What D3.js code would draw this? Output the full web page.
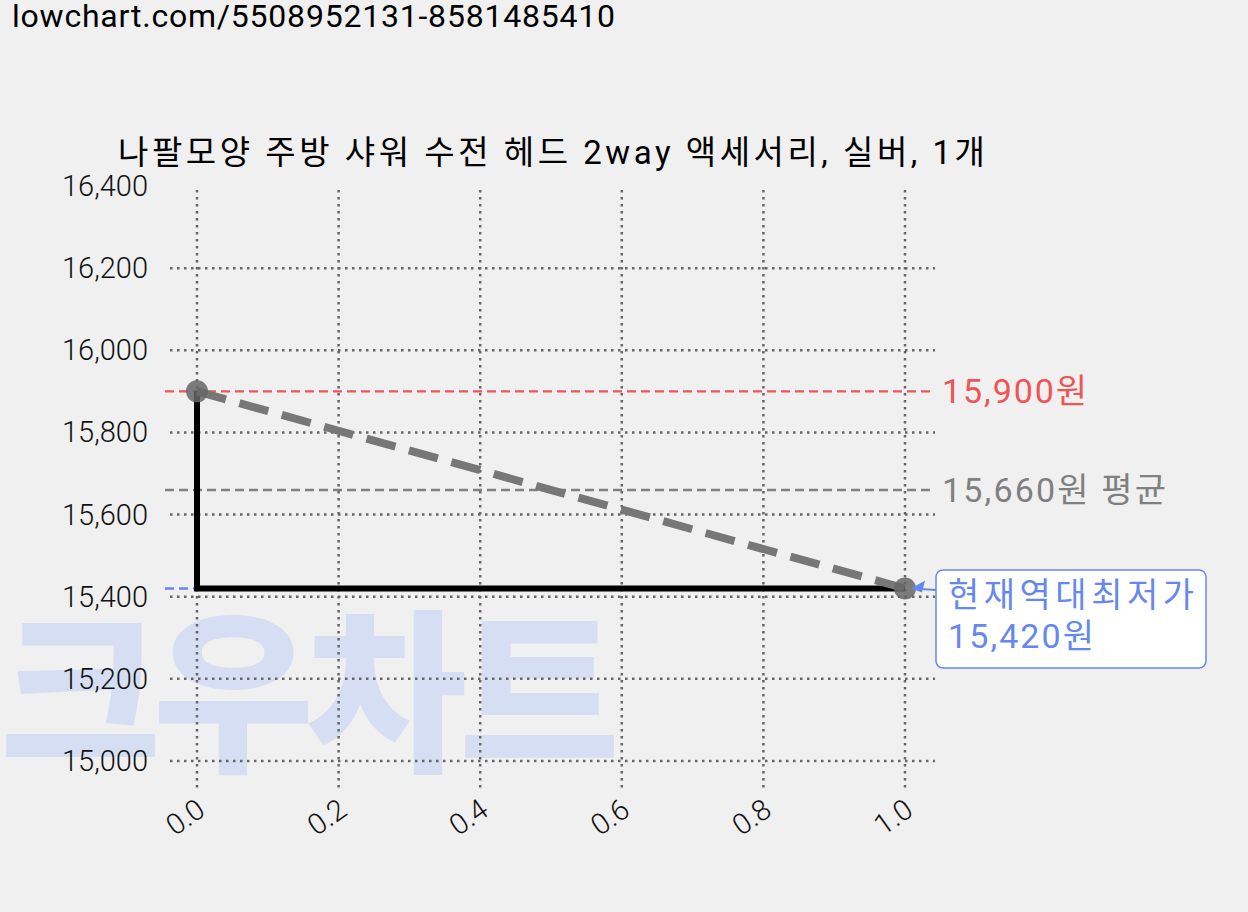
<!DOCTYPE html>
<html><head><meta charset="utf-8">
<script src="https://cdn.jsdelivr.net/npm/d3@7"></script>
<style>body{margin:0;background:#f0f0f0;font-family:Roboto,"Noto Sans CJK KR",sans-serif}</style>
</head><body><svg id="c" width="1248" height="912"></svg>
<script>
const title = "나팔모양 주방 샤워 수전 헤드 2way 액세서리, 실버, 1개";
const urlText = "lowchart.com/5508952131-8581485410";
const xs = [0.0, 1.0];
const prices = [15900, 15420];
const stepX = [0.0, 0.0, 1.0];
const stepY = [15900, 15420, 15420];
const xTicks = [0.0, 0.2, 0.4, 0.6, 0.8, 1.0];
const yTicks = [15000, 15200, 15400, 15600, 15800, 16000, 16200, 16400];
const maxPrice = 15900, avgPrice = 15660, minPrice = 15420;

const svg = d3.select("#c");
const F = 'Roboto,"Noto Sans CJK KR",sans-serif';
svg.append("rect").attr("width",1248).attr("height",912).attr("fill","#f0f0f0");
svg.append("text").attr("x",12).attr("y",27).attr("font-size",32).attr("font-family",F).attr("textLength",603).text(urlText);

const x = d3.scaleLinear().domain([0,1]).range([197,905]);
const y = d3.scaleLinear().domain([15000,16400]).range([761,186]);

// watermark
svg.append("text").attr("x",0).attr("y",758).attr("font-size",175).attr("font-weight",900)
  .attr("font-family",'"Noto Sans CJK KR"').attr("fill","#d5def2").attr("textLength",620).text("크우차트");

const g = svg.append("g");
g.selectAll(".hg").data(yTicks.filter(d=>d<16400)).join("line")
  .attr("x1",170).attr("x2",935).attr("y1",d=>y(d)).attr("y2",d=>y(d))
  .attr("stroke","#666").attr("stroke-width",2.5).attr("stroke-dasharray","2.5,4.5");
g.selectAll(".vg").data(xTicks).join("line")
  .attr("x1",d=>x(d)).attr("x2",d=>x(d)).attr("y1",190).attr("y2",790)
  .attr("stroke","#666").attr("stroke-width",2.5).attr("stroke-dasharray","2.5,4.5");

g.selectAll(".yl").data(yTicks).join("text").attr("x",148).attr("y",d=>y(d)+10)
  .attr("text-anchor","end").attr("font-size",29).attr("font-weight",300).attr("font-family",F).attr("fill","#111")
  .text(d=>d3.format(",")(d));
g.selectAll(".xl").data(xTicks).join("text")
  .attr("transform",d=>`translate(${x(d)+10},${814}) rotate(-35)`)
  .attr("text-anchor","end").attr("font-size",29).attr("font-weight",300).attr("font-family",F).attr("fill","#111")
  .text(d=>d.toFixed(1));

svg.append("text").attr("x",118).attr("y",164).attr("font-size",33).attr("font-family",F).attr("textLength",867).text(title);

function hline(v,c,x1,x2){svg.append("line").attr("x1",x1).attr("x2",x2).attr("y1",y(v)).attr("y2",y(v))
  .attr("stroke",c).attr("stroke-width",2.4).attr("stroke-dasharray","9,5");}
hline(maxPrice,"#ee5555",165,935);
hline(avgPrice,"#808080",165,935);
hline(minPrice,"#6688ee",165,200);
svg.append("text").attr("x",942).attr("y",y(maxPrice)+12).attr("font-size",34).attr("font-family",F).attr("fill","#ee5555").attr("textLength",145).text(d3.format(",")(maxPrice)+"원");
svg.append("text").attr("x",942).attr("y",y(avgPrice)+12).attr("font-size",34).attr("font-family",F).attr("fill","#808080").attr("textLength",224).text(d3.format(",")(avgPrice)+"원 평균");

svg.append("path").datum(stepX.map((d,i)=>[d,stepY[i]]))
  .attr("d",d3.line().x(d=>x(d[0])).y(d=>y(d[1]))).attr("fill","none").attr("stroke","#000").attr("stroke-width",6);
svg.append("path").datum(xs.map((d,i)=>[d,prices[i]]))
  .attr("d",d3.line().x(d=>x(d[0])).y(d=>y(d[1]))).attr("fill","none").attr("stroke","#777").attr("stroke-width",8).attr("stroke-dasharray","30,14");
svg.selectAll(".pt").data(xs).join("circle").attr("cx",d=>x(d)).attr("cy",(d,i)=>y(prices[i])).attr("r",11)
  .attr("fill","#666").attr("opacity",0.85);

svg.append("rect").attr("x",936).attr("y",570).attr("width",270).attr("height",98).attr("rx",7)
  .attr("fill","#fff").attr("stroke","#6688ee").attr("stroke-width",1.5);
svg.append("text").attr("x",948).attr("y",607).attr("font-size",34).attr("font-family",F).attr("fill","#6688ee").attr("textLength",246).text("현재역대최저가");
svg.append("text").attr("x",948).attr("y",648).attr("font-size",34).attr("font-family",F).attr("fill","#6688ee").attr("textLength",146).text(d3.format(",")(minPrice)+"원");
svg.append("path").attr("d",`M936,590 L${x(1)+8},${y(minPrice)}`).attr("stroke","#6688ee").attr("stroke-width",2);
svg.append("path").attr("d",`M${x(1)+6},${y(minPrice)} l14,-8 l-3,12 z`).attr("fill","#6688ee");
</script></body></html>
